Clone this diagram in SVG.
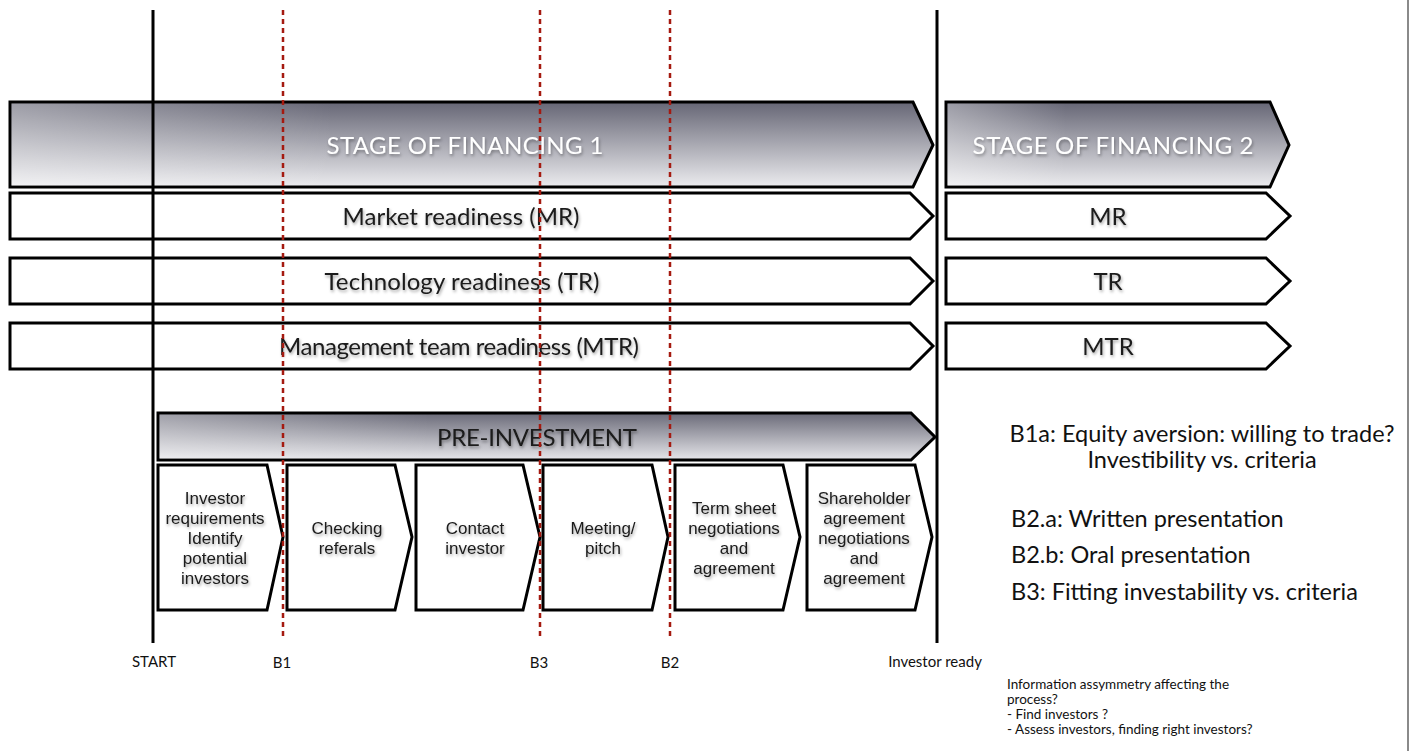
<svg xmlns="http://www.w3.org/2000/svg" width="1416" height="751" viewBox="0 0 1416 751">
<defs>
  <linearGradient id="gStage" x1="0" y1="0" x2="0" y2="1">
    <stop offset="0" stop-color="#666675"/>
    <stop offset="1" stop-color="#ececef"/>
  </linearGradient>
  <linearGradient id="gPre" x1="0" y1="0" x2="0" y2="1">
    <stop offset="0" stop-color="#6a6a78"/>
    <stop offset="1" stop-color="#e6e6ea"/>
  </linearGradient>
  <linearGradient id="gSheen" x1="0" y1="0" x2="1" y2="0">
    <stop offset="0" stop-color="#ffffff" stop-opacity="0.35"/>
    <stop offset="0.35" stop-color="#ffffff" stop-opacity="0"/>
  </linearGradient>
  <filter id="sh" x="-10%" y="-30%" width="120%" height="160%">
    <feDropShadow dx="1" dy="2" stdDeviation="1.5" flood-color="#000" flood-opacity="0.35"/>
  </filter>
</defs>
<style>
  .box { stroke: #000; stroke-width: 3; stroke-linejoin: miter; }
  .stage { fill: url(#gStage); }
  .pre { fill: url(#gPre); }
  .sheen { fill: url(#gSheen); stroke: none; }
  .white { fill: #fff; }
  .chev { fill: #fff; stroke: #000; stroke-width: 3; }
  .big { font-family: Lato, "Liberation Sans", sans-serif; font-size: 24px; text-anchor: middle; fill: #1a1a1a; }
  .title { font-family: Lato, "Liberation Sans", sans-serif; font-size: 24px; text-anchor: middle; fill: #fff; }
  .small { font-family: "Liberation Sans", Arial, sans-serif; font-size: 17px; text-anchor: middle; fill: #1a1a1a; }
  .note { font-family: Lato, "Liberation Sans", sans-serif; font-size: 23.5px; fill: #111; }
  .lbl { font-family: Lato, "Liberation Sans", sans-serif; font-size: 15px; fill: #111; text-anchor: middle; }
  .info { font-family: Lato, "Liberation Sans", sans-serif; font-size: 13.5px; fill: #111; }
  .vline { stroke: #000; stroke-width: 3; }
  .dash { stroke: #a51a10; stroke-width: 2.5; stroke-dasharray: 5 4; }
</style>

<line x1="1408" y1="0" x2="1408" y2="751" stroke="#8a8a8a" stroke-width="2"/>

<g id="stage1">
  <path class="box stage" d="M10,102 H913 L933,145 L913,187 H10 Z"/>
  <path class="sheen" d="M11.5,103.5 H912 L931,145 L912,185.5 H11.5 Z"/>
  <text class="title" x="465" y="154" textLength="277" filter="url(#sh)">STAGE OF FINANCING 1</text>
</g>
<g id="mr1">
  <path class="box white" d="M10,193 H910 L933,216 L910,239 H10 Z"/>
  <text class="big" x="461" y="225" textLength="237" filter="url(#sh)">Market readiness (MR)</text>
</g>
<g id="tr1">
  <path class="box white" d="M10,258 H910 L933,281 L910,304 H10 Z"/>
  <text class="big" x="462" y="290" textLength="275" filter="url(#sh)">Technology readiness (TR)</text>
</g>
<g id="mtr1">
  <path class="box white" d="M10,323 H910 L933,346 L910,369 H10 Z"/>
  <text class="big" x="459" y="355" textLength="360" filter="url(#sh)">Management team readiness (MTR)</text>
</g>

<g id="stage2">
  <path class="box stage" d="M946,102 H1270 L1289,145 L1270,187 H946 Z"/>
  <path class="sheen" d="M947.5,103.5 H1269 L1287,145 L1269,185.5 H947.5 Z"/>
  <text class="title" x="1113" y="154" textLength="281" filter="url(#sh)">STAGE OF FINANCING 2</text>
</g>
<g id="mr2">
  <path class="box white" d="M946,193 H1266 L1290,216 L1266,239 H946 Z"/>
  <text class="big" x="1108" y="225" filter="url(#sh)">MR</text>
</g>
<g id="tr2">
  <path class="box white" d="M946,258 H1266 L1290,281 L1266,304 H946 Z"/>
  <text class="big" x="1108" y="290" filter="url(#sh)">TR</text>
</g>
<g id="mtr2">
  <path class="box white" d="M946,323 H1266 L1290,346 L1266,369 H946 Z"/>
  <text class="big" x="1108" y="355" filter="url(#sh)">MTR</text>
</g>

<g id="preinvestment">
  <path class="box pre" d="M158,413 H911 L935,437 L911,460 H158 Z"/>
  <path class="sheen" d="M159.5,414.5 H910 L933,437 L910,458.5 H159.5 Z"/>
  <text class="big" x="537" y="446" textLength="200" filter="url(#sh)">PRE-INVESTMENT</text>
</g>

<g id="step1">
  <path class="chev" d="M158,465 H267 L283,537 L267,610 H158 Z"/>
  <text class="small" filter="url(#sh)"><tspan x="215" y="504">Investor</tspan><tspan x="215" y="524">requirements</tspan><tspan x="215" y="544">Identify</tspan><tspan x="215" y="564">potential</tspan><tspan x="215" y="584">investors</tspan></text>
</g>
<g id="step2">
  <path class="chev" d="M287,465 H395 L412,537 L395,610 H287 Z"/>
  <text class="small" filter="url(#sh)"><tspan x="347" y="534">Checking</tspan><tspan x="347" y="554">referals</tspan></text>
</g>
<g id="step3">
  <path class="chev" d="M416,465 H523 L540,537 L523,610 H416 Z"/>
  <text class="small" filter="url(#sh)"><tspan x="475" y="534">Contact</tspan><tspan x="475" y="554">investor</tspan></text>
</g>
<g id="step4">
  <path class="chev" d="M543,465 H652 L668,537 L652,610 H543 Z"/>
  <text class="small" filter="url(#sh)"><tspan x="603" y="534">Meeting/</tspan><tspan x="603" y="554">pitch</tspan></text>
</g>
<g id="step5">
  <path class="chev" d="M675,465 H783 L800,537 L783,610 H675 Z"/>
  <text class="small" filter="url(#sh)"><tspan x="734" y="514">Term sheet</tspan><tspan x="734" y="534">negotiations</tspan><tspan x="734" y="554">and</tspan><tspan x="734" y="574">agreement</tspan></text>
</g>
<g id="step6">
  <path class="chev" d="M807,465 H915 L932,537 L915,610 H807 Z"/>
  <text class="small" filter="url(#sh)"><tspan x="864" y="504">Shareholder</tspan><tspan x="864" y="524">agreement</tspan><tspan x="864" y="544">negotiations</tspan><tspan x="864" y="564">and</tspan><tspan x="864" y="584">agreement</tspan></text>
</g>

<g id="connectors">
  <line class="vline" x1="153" y1="10" x2="153" y2="643"/>
  <line class="vline" x1="937" y1="10" x2="937" y2="643"/>
  <line class="dash" x1="283" y1="10" x2="283" y2="640"/>
  <line class="dash" x1="540" y1="10" x2="540" y2="640"/>
  <line class="dash" x1="670" y1="10" x2="670" y2="640"/>
</g>

<g id="labels">
  <text class="lbl" x="154" y="667">START</text>
  <text class="lbl" x="282" y="668">B1</text>
  <text class="lbl" x="539" y="668">B3</text>
  <text class="lbl" x="670" y="668">B2</text>
  <text class="lbl" x="935" y="667">Investor ready</text>
</g>

<g id="notes">
  <text class="note" x="1202" y="442" text-anchor="middle">B1a: Equity aversion: willing to trade?</text>
  <text class="note" x="1202" y="468" text-anchor="middle">Investibility vs. criteria</text>
  <text class="note" x="1011" y="527">B2.a: Written presentation</text>
  <text class="note" x="1011" y="563">B2.b: Oral presentation</text>
  <text class="note" x="1011" y="600">B3: Fitting investability vs. criteria</text>
</g>

<g id="info">
  <text class="info" x="1007" y="689">Information assymmetry affecting the</text>
  <text class="info" x="1007" y="704">process?</text>
  <text class="info" x="1007" y="719">- Find investors ?</text>
  <text class="info" x="1007" y="734">- Assess investors, finding right investors?</text>
</g>
</svg>
